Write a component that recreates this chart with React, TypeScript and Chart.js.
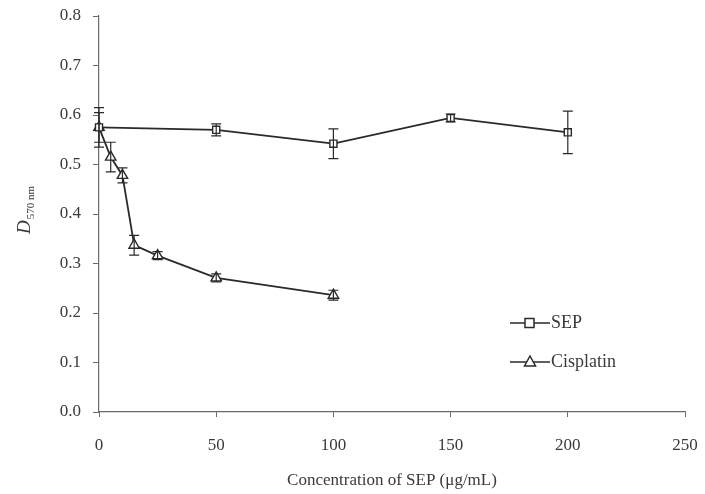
import React, { useEffect, useRef } from "react";
import { Chart, registerables } from "chart.js";

Chart.register(...registerables);

const sepX = [0, 50, 100, 150, 200];
const sepY = [0.575, 0.57, 0.542, 0.594, 0.565];
const sepErr = [0.04, 0.012, 0.03, 0.008, 0.043];

const cisX = [0, 5, 10, 15, 25, 50, 100];
const cisY = [0.575, 0.515, 0.478, 0.337, 0.316, 0.271, 0.236];
const cisErr = [0.03, 0.03, 0.015, 0.02, 0.008, 0.008, 0.01];

const xTicks = [0, 50, 100, 150, 200, 250];
const yTicks = [0, 0.1, 0.2, 0.3, 0.4, 0.5, 0.6, 0.7, 0.8];

const seriesNames = ["SEP", "Cisplatin"];
const xTitle = "Concentration of SEP (\u03bcg/mL)";
const yTitleMain = "D";
const yTitleSub = "570 nm";

const INK = "#2a2a2a";
const AXIS = "#6a6a6a";
const TEXT = "#3a3a3a";
const FONT = "'Liberation Serif', 'DejaVu Serif', serif";

const errors = [sepErr, cisErr];

const overlayPlugin = {
  id: "overlay",
  afterDatasetsDraw(chart: any) {
    const ctx = chart.ctx;
    const xs = chart.scales.x;
    const ys = chart.scales.y;
    ctx.save();
    ctx.strokeStyle = INK;
    ctx.lineWidth = 1.2;
    chart.data.datasets.forEach((ds: any, di: number) => {
      ds.data.forEach((p: any, i: number) => {
        const e = errors[di][i];
        const px = xs.getPixelForValue(p.x);
        const top = ys.getPixelForValue(p.y + e);
        const bot = ys.getPixelForValue(p.y - e);
        ctx.beginPath();
        ctx.moveTo(px, top);
        ctx.lineTo(px, bot);
        ctx.moveTo(px - 5, top);
        ctx.lineTo(px + 5, top);
        ctx.moveTo(px - 5, bot);
        ctx.lineTo(px + 5, bot);
        ctx.stroke();
      });
    });
    ctx.restore();
  },
  afterDraw(chart: any) {
    const ctx = chart.ctx;
    const ca = chart.chartArea;
    ctx.save();
    // x title
    ctx.fillStyle = TEXT;
    ctx.font = `17px ${FONT}`;
    ctx.textAlign = "center";
    ctx.textBaseline = "middle";
    ctx.fillText(xTitle, (ca.left + ca.right) / 2, 481);
    // y title
    ctx.save();
    ctx.translate(24, 226);
    ctx.rotate(-Math.PI / 2);
    ctx.textAlign = "left";
    ctx.textBaseline = "alphabetic";
    ctx.font = `italic 19px ${FONT}`;
    ctx.fillText(yTitleMain, -8, 6);
    const w = ctx.measureText(yTitleMain).width;
    ctx.font = `11px ${FONT}`;
    ctx.fillText(yTitleSub, -8 + w + 1, 10);
    ctx.restore();
    // legend
    const items = [
      { y: 323, style: "rect" },
      { y: 362, style: "triangle" },
    ];
    items.forEach((it, i) => {
      ctx.strokeStyle = INK;
      ctx.lineWidth = 1.5;
      ctx.beginPath();
      ctx.moveTo(510, it.y);
      ctx.lineTo(550, it.y);
      ctx.stroke();
      ctx.fillStyle = "#fff";
      ctx.beginPath();
      if (it.style === "rect") {
        ctx.rect(525, it.y - 4.5, 9, 9);
      } else {
        ctx.moveTo(530, it.y - 6);
        ctx.lineTo(535.5, it.y + 4);
        ctx.lineTo(524.5, it.y + 4);
        ctx.closePath();
      }
      ctx.fill();
      ctx.stroke();
      ctx.fillStyle = TEXT;
      ctx.font = `18px ${FONT}`;
      ctx.textAlign = "left";
      ctx.textBaseline = "middle";
      ctx.fillText(seriesNames[i], 551, it.y);
    });
    ctx.restore();
  },
};

export default function App() {
  const ref = useRef<HTMLCanvasElement>(null);
  useEffect(() => {
    document.body.style.margin = "0";
    const canvas = ref.current!;
    const chart = new Chart(canvas, {
      type: "line",
      data: {
        datasets: [
          {
            label: seriesNames[0],
            data: sepX.map((x, i) => ({ x, y: sepY[i] })),
            borderColor: INK,
            borderWidth: 1.8,
            pointStyle: "rect",
            pointRadius: 5,
            pointBackgroundColor: "#fff",
            pointBorderColor: INK,
            pointBorderWidth: 1.4,
            tension: 0,
            clip: false,
          },
          {
            label: seriesNames[1],
            data: cisX.map((x, i) => ({ x, y: cisY[i] })),
            borderColor: INK,
            borderWidth: 1.8,
            pointStyle: "triangle",
            pointRadius: 6,
            pointBackgroundColor: "#fff",
            pointBorderColor: INK,
            pointBorderWidth: 1.4,
            tension: 0,
            clip: false,
          },
        ],
      },
      options: {
        animation: false,
        responsive: false,
        events: [],
        layout: { padding: { top: 16, right: 20, left: 0, bottom: 0 } },
        plugins: { legend: { display: false }, tooltip: { enabled: false } },
        scales: {
          x: {
            type: "linear",
            min: 0,
            max: 250,
            afterBuildTicks: (s: any) => {
              s.ticks = xTicks.map((v) => ({ value: v }));
            },
            afterFit: (s: any) => {
              s.height = 82;
              s.paddingLeft = 0;
              s.paddingRight = 0;
            },
            grid: {
              drawOnChartArea: false,
              drawTicks: true,
              tickLength: 5,
              color: AXIS,
            },
            border: { color: AXIS, width: 1.2 },
            ticks: {
              color: TEXT,
              font: { family: FONT, size: 17 },
              padding: 18,
              maxRotation: 0,
            },
          },
          y: {
            min: 0,
            max: 0.8,
            afterBuildTicks: (s: any) => {
              s.ticks = yTicks.map((v) => ({ value: v }));
            },
            afterFit: (s: any) => {
              s.width = 99;
              s.paddingTop = 0;
              s.paddingBottom = 0;
            },
            grid: {
              drawOnChartArea: false,
              drawTicks: true,
              tickLength: 6,
              color: AXIS,
            },
            border: { color: AXIS, width: 1.2 },
            ticks: {
              color: TEXT,
              font: { family: FONT, size: 17 },
              padding: 12,
              callback: (v: any) => Number(v).toFixed(1),
            },
          },
        },
      },
      plugins: [overlayPlugin],
    } as any);
    return () => chart.destroy();
  }, []);
  return (
    <canvas ref={ref} width={705} height={494} style={{ display: "block" }} />
  );
}
